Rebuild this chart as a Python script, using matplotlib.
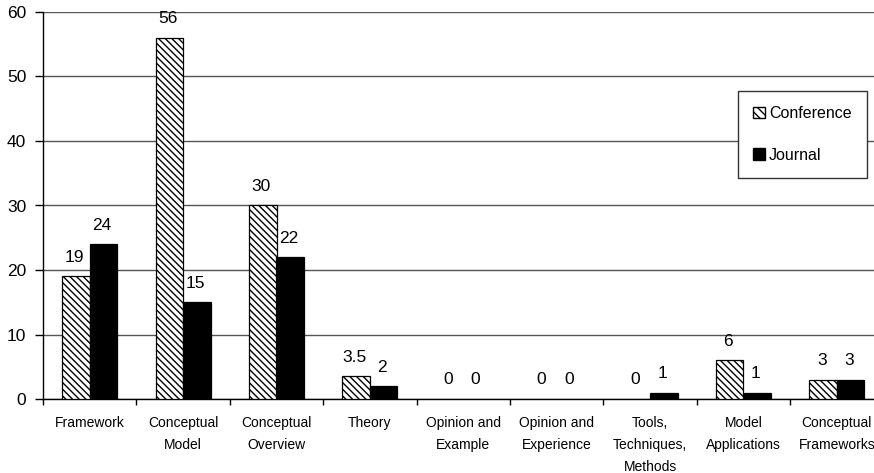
import numpy as np
import matplotlib.pyplot as plt
from matplotlib.patches import Patch

categories = ['Framework', 'Conceptual\nModel', 'Conceptual\nOverview', 'Theory',
              'Opinion and\nExample', 'Opinion and\nExperience',
              'Tools,\nTechniques,\nMethods', 'Model\nApplications',
              'Conceptual\nFrameworks']
conference = [19, 56, 30, 3.5, 0, 0, 0, 6, 3]
journal = [24, 15, 22, 2, 0, 0, 1, 1, 3]


def fmt(v):
    return f'{v:g}'


def main():
    plt.rcParams['font.family'] = ['Liberation Sans', 'DejaVu Sans']
    plt.rcParams['hatch.linewidth'] = 1.0

    fig = plt.figure(figsize=(8.74, 4.73), dpi=100)
    # plot area runs a bit past the right edge of the figure
    ax = fig.add_axes([43 / 874, 1 - 399 / 473, 840.6 / 874, 387 / 473])

    x = np.arange(len(categories))
    w = 0.294
    hatch = '\\' * 5
    lw_c = [0.9 if v > 0 else 0 for v in conference]
    lw_j = [0.9 if v > 0 else 0 for v in journal]
    b1 = ax.bar(x - w / 2, conference, w, color='white', edgecolor='black',
                hatch=hatch, linewidth=lw_c, zorder=3)
    b2 = ax.bar(x + w / 2, journal, w, color='black', edgecolor='black',
                linewidth=lw_j, zorder=3)

    for bars, vals in ((b1, conference), (b2, journal)):
        for rect, v in zip(bars, vals):
            ax.annotate(fmt(v), (rect.get_x() + rect.get_width() / 2, v),
                        xytext=(-1, 13.7), textcoords='offset points',
                        ha='center', va='center', fontsize=12.5)

    ax.set_ylim(0, 60)
    ax.set_xlim(-0.5, len(categories) - 0.5)
    ax.set_yticks(range(0, 61, 10))
    ax.yaxis.grid(True, color='#555555', linewidth=1.0, zorder=0)
    ax.set_axisbelow(True)

    ax.set_xticks(x)
    ax.set_xticklabels(categories, fontsize=10, linespacing=1.7)
    ax.set_xticks(np.arange(-0.5, len(categories), 1.0), minor=True)
    ax.tick_params(axis='x', which='major', length=0, pad=12.5)
    ax.tick_params(axis='x', which='minor', length=4, width=1.0,
                   direction='out')
    ax.tick_params(axis='y', labelsize=12.5, length=6, width=1.0,
                   direction='out', pad=6)
    for lab in ax.get_xticklabels():
        lab.set_verticalalignment('top')

    for s in ('top', 'right'):
        ax.spines[s].set_visible(False)
    ax.spines['left'].set_linewidth(1.0)
    ax.spines['bottom'].set_linewidth(1.0)

    handles = [Patch(facecolor='white', edgecolor='black', hatch='\\' * 4),
               Patch(facecolor='black', edgecolor='black')]
    leg = fig.legend(handles, ['Conference', 'Journal'],
                     loc='upper left', bbox_to_anchor=(738 / 874, 1 - 91 / 473),
                     fontsize=11.5, frameon=True, fancybox=False,
                     edgecolor='#333333', framealpha=1, labelspacing=1.65,
                     handlelength=0.75, handleheight=0.75, handletextpad=0.25,
                     borderpad=0.95, borderaxespad=0)
    leg.get_frame().set_linewidth(1.0)

    fig.savefig('out.png', dpi=100)


if __name__ == '__main__':
    main()
